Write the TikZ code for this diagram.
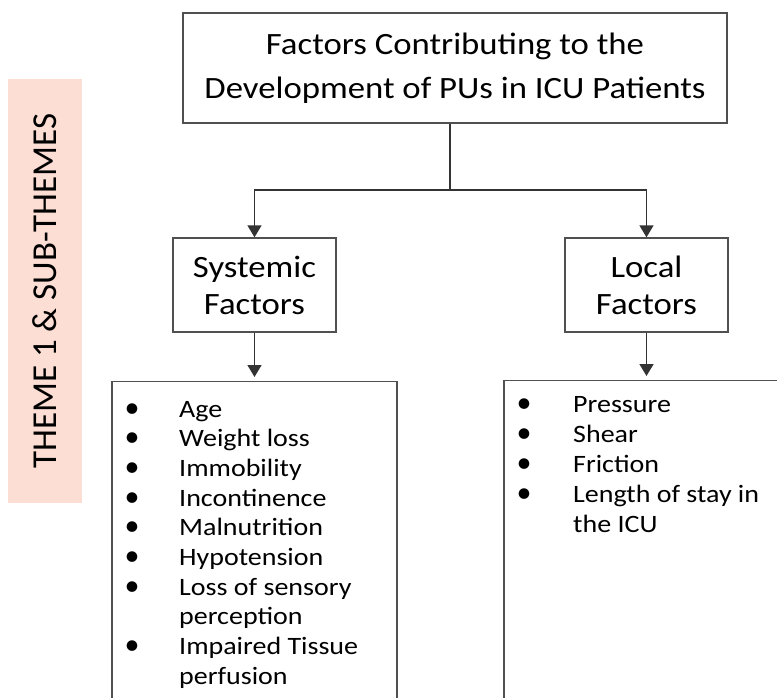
\documentclass[tikz,border=0pt]{standalone}
\usepackage{fontspec}
\setmainfont{Carlito}
\newfontfamily\widefont[FakeStretch=1.12]{Carlito}
\usetikzlibrary{arrows.meta}
\definecolor{pinkbg}{HTML}{FCDED4}
\definecolor{edgegray}{HTML}{505050}
\definecolor{linkgray}{HTML}{333333}
\begin{document}
\begin{tikzpicture}[x=1pt,y=-1pt,
  box/.style={draw=edgegray, line width=1.4pt, fill=white, inner sep=0pt, align=center},
  headfont/.style={font=\widefont\fontsize{31}{44}\selectfont},
  subfont/.style={font=\widefont\fontsize{31}{37}\selectfont},
  itemtext/.style={font=\widefont\fontsize{25}{30}\selectfont, inner sep=0pt, anchor=base west},
  bulletmark/.style={font=\fontsize{30}{30}\selectfont, inner sep=0pt, anchor=base},
  link/.style={draw=linkgray, line width=1.5pt, -{Triangle[width=14pt,length=12pt]}},
  plainlink/.style={draw=linkgray, line width=1.5pt}]
\useasboundingbox (0,0) rectangle (777,697);
\clip (0,0) rectangle (777,697);

% side label
\node[fill=pinkbg, rotate=90, minimum width=424pt, minimum height=74pt, inner sep=0pt,
      font=\fontsize{35}{40}\selectfont] (theme) at (45,291) {THEME 1 \& SUB-THEMES};

% main boxes
\node[box, headfont, minimum width=544pt, minimum height=110pt] (top) at (455,68)
  {Factors Contributing to the\\Development of PUs in ICU Patients};
\node[box, subfont, minimum width=163pt, minimum height=94pt] (sys) at (254.5,285)
  {Systemic\\Factors};
\node[box, subfont, minimum width=163pt, minimum height=94pt] (loc) at (646.5,285)
  {Local\\Factors};

% list boxes (extend past the picture edge)
\node[box, minimum width=285pt, minimum height=340pt, anchor=north] (syslist) at (254.5,381) {};
\node[box, minimum width=285pt, minimum height=340pt, anchor=north] (loclist) at (646.5,380) {};

% connectors
\coordinate (split) at (450,190);
\draw[plainlink] (top.south -| split) -- (split);
\draw[link] (split) -| (sys.north);
\draw[link] (split) -| (loc.north);
\draw[link, shorten >=4pt] (sys.south) -- (syslist.north);
\draw[link, shorten >=4pt] (loc.south) -- (loclist.north);

% systemic items
\foreach \t/\b [count=\i] in {Age/1, Weight loss/1, Immobility/1, Incontinence/1,
    Malnutrition/1, Hypotension/1, Loss of sensory/1, perception/0,
    Impaired Tissue/1, perfusion/0} {
  \node[itemtext] (si\i) at (179,{417+29.7*(\i-1)}) {\t};
  \ifnum\b=1 \node[bulletmark] (sb\i) at (132,{417+29.7*(\i-1)}) {•};\fi
}

% local items
\foreach \t/\b [count=\i] in {Pressure/1, Shear/1, Friction/1, Length of stay in/1, the ICU/0} {
  \node[itemtext] (li\i) at (573,{412+30*(\i-1)}) {\t};
  \ifnum\b=1 \node[bulletmark] (lb\i) at (524,{412+30*(\i-1)}) {•};\fi
}
\end{tikzpicture}
\end{document}
